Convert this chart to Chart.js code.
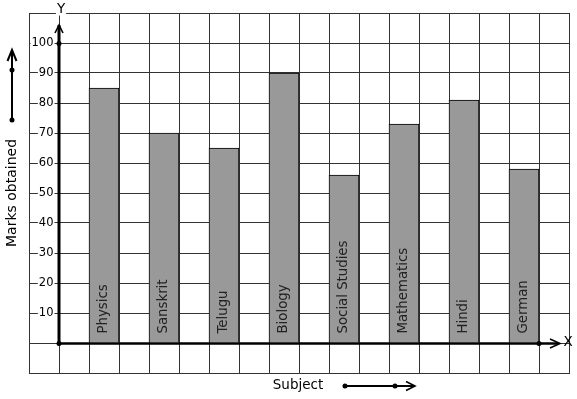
<!DOCTYPE html>
<html>
<head>
<meta charset="utf-8">
<script src="https://cdn.jsdelivr.net/npm/chart.js@4/dist/chart.umd.min.js"></script>
<style>
  html, body { margin: 0; padding: 0; background: #fff; }
  canvas { display: block; }
</style>
</head>
<body>
<canvas id="marks-chart" width="577" height="399"></canvas>
<script>

const subjects   = ['Physics', 'Sanskrit', 'Telugu', 'Biology', 'Social Studies', 'Mathematics', 'Hindi', 'German'];
const marks      = [85, 70, 65, 90, 56, 73, 81, 58];
const yTicks     = [10, 20, 30, 40, 50, 60, 70, 80, 90, 100];
const yAxisTitle = 'Marks obtained';
const xAxisTitle = 'Subject';

const FONT = '"DejaVu Sans", sans-serif';

// each subject sits in every second column of the graph paper
const barData = marks.map( ( m, i ) => ( { x: i * 2 + 1.5, y: m } ) );


function dot( ctx, x, y, r ) {
    ctx.beginPath();
    ctx.arc( x, y, r, 0, Math.PI * 2 );
    ctx.fill();
}

function textBox( ctx, text, x, y, align ) {
    ctx.textAlign = align;
    ctx.textBaseline = 'middle';
    const w = ctx.measureText( text ).width;
    const left = align === 'right' ? x - w : align === 'center' ? x - w / 2 : x;
    ctx.fillStyle = '#fff';
    ctx.fillRect( left - 1, y - 6, w + 2, 12 );
    ctx.fillStyle = '#000';
    ctx.fillText( text, x, y );
}


const graphPaper = {
    id: 'graphPaper',
    afterDraw( chart ) {
        const ctx = chart.ctx;
        const xs  = chart.scales.x;
        const ys  = chart.scales.y;
        const x0  = xs.getPixelForValue( 0 );
        const y0  = ys.getPixelForValue( 0 ) + 0.5;
        const top = chart.chartArea.top;

        ctx.save();

        // subject names, written up inside the bars
        ctx.font = '13.3px ' + FONT;
        ctx.fillStyle = '#222';
        ctx.textAlign = 'left';
        ctx.textBaseline = 'middle';
        barData.forEach( ( d, i ) => {
            ctx.save();
            ctx.translate( xs.getPixelForValue( d.x ) - 0.5, y0 - 10 );
            ctx.rotate( -Math.PI / 2 );
            ctx.fillText( subjects[i], 0, 0 );
            ctx.restore();
        } );

        // y tick labels
        ctx.font = '11.5px ' + FONT;
        yTicks.forEach( v => textBox( ctx, String( v ), 53.5, ys.getPixelForValue( v ) + 0.5, 'right' ) );

        // axes
        ctx.strokeStyle = '#000';
        ctx.fillStyle = '#000';
        ctx.lineCap = 'butt';

        ctx.lineWidth = 3;
        ctx.beginPath();
        ctx.moveTo( x0, y0 );
        ctx.lineTo( x0, top + 12 );
        ctx.stroke();

        ctx.lineWidth = 2.5;
        ctx.beginPath();
        ctx.moveTo( x0, y0 );
        ctx.lineTo( xs.right - 11, y0 );
        ctx.stroke();

        ctx.lineWidth = 1.6;
        ctx.beginPath();
        ctx.moveTo( x0 - 4, top + 20 );
        ctx.lineTo( x0, top + 12 );
        ctx.lineTo( x0 + 4, top + 20 );
        ctx.stroke();
        ctx.beginPath();
        ctx.moveTo( xs.right - 19, y0 - 4.5 );
        ctx.lineTo( xs.right - 9, y0 );
        ctx.lineTo( xs.right - 19, y0 + 4.5 );
        ctx.stroke();

        dot( ctx, x0, y0, 2.5 );
        dot( ctx, x0, ys.getPixelForValue( 100 ) + 0.5, 2.5 );
        dot( ctx, xs.getPixelForValue( 16 ), y0, 2.5 );

        // axis letters
        ctx.font = '13.5px ' + FONT;
        textBox( ctx, 'Y', x0 + 2, 9.5, 'center' );
        ctx.fillStyle = '#000';
        ctx.textAlign = 'center';
        ctx.fillText( 'X', xs.right - 1, y0 - 1 );

        // side arrows with their titles
        ctx.lineWidth = 2;
        ctx.beginPath();
        ctx.moveTo( 12, 120 );
        ctx.lineTo( 12, 51 );
        ctx.stroke();
        ctx.beginPath();
        ctx.moveTo( 7.5, 61 );
        ctx.lineTo( 12, 50 );
        ctx.lineTo( 16.5, 61 );
        ctx.stroke();
        dot( ctx, 12, 70, 2.5 );
        dot( ctx, 12, 120, 2.5 );

        ctx.font = '14px ' + FONT;
        ctx.save();
        ctx.translate( 12, 193 );
        ctx.rotate( -Math.PI / 2 );
        ctx.textAlign = 'center';
        ctx.textBaseline = 'middle';
        ctx.fillText( yAxisTitle, 0, 0 );
        ctx.restore();

        ctx.font = '13.5px ' + FONT;
        ctx.textAlign = 'center';
        ctx.textBaseline = 'middle';
        ctx.fillText( xAxisTitle, 298, 385 );

        ctx.lineWidth = 2;
        ctx.beginPath();
        ctx.moveTo( 345, 386 );
        ctx.lineTo( 414, 386 );
        ctx.stroke();
        ctx.lineWidth = 1.6;
        ctx.beginPath();
        ctx.moveTo( 406, 381.5 );
        ctx.lineTo( 415, 386 );
        ctx.lineTo( 406, 390.5 );
        ctx.stroke();
        dot( ctx, 345, 386, 2.5 );
        dot( ctx, 395, 386, 2.5 );

        ctx.restore();
    }
};


new Chart( document.getElementById( 'marks-chart' ), {
    type: 'bar',
    data: {
        datasets: [ {
            data: barData,
            backgroundColor: '#999999',
            borderColor: '#000',
            borderWidth: 1,
            barThickness: 30,
            borderSkipped: 'start'
        } ]
    },
    options: {
        responsive: false,
        animation: false,
        devicePixelRatio: 1,
        layout: { padding: { left: 29, top: 13, right: 8, bottom: 26 } },
        plugins: {
            legend: { display: false },
            tooltip: { enabled: false }
        },
        scales: {
            x: {
                type: 'linear',
                min: -1,
                max: 17,
                offset: false,
                ticks: { display: false, stepSize: 1 },
                grid: { color: '#333', drawTicks: false, lineWidth: 1, offset: false },
                border: { color: '#333' }
            },
            y: {
                min: -10,
                max: 110,
                ticks: { display: false, stepSize: 10 },
                grid: { color: '#333', drawTicks: false, lineWidth: 1 },
                border: { color: '#333' }
            }
        }
    },
    plugins: [ graphPaper ]
} );
</script>
</body>
</html>
